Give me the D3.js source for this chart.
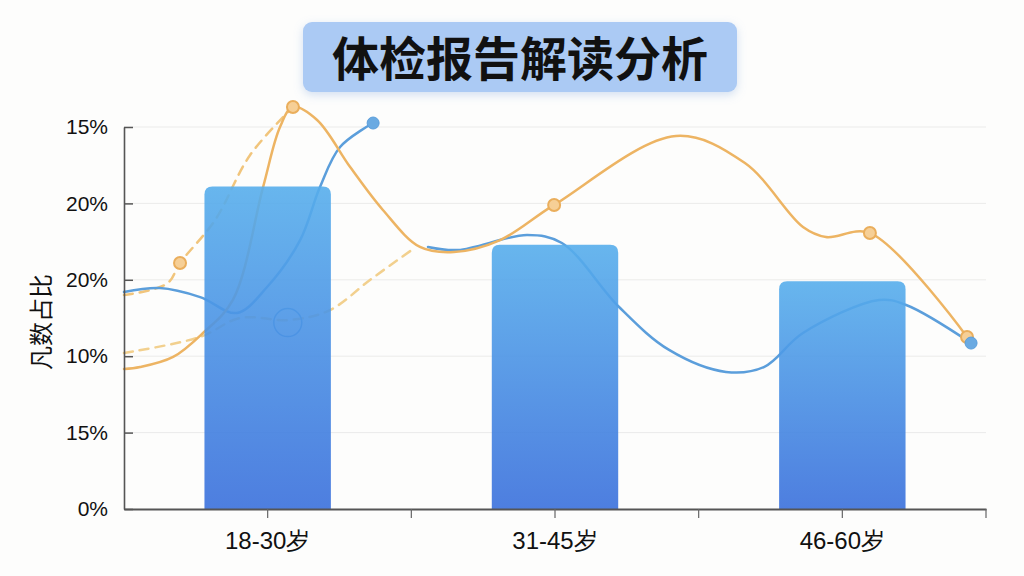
<!DOCTYPE html>
<html><head><meta charset="utf-8">
<script src="https://cdn.jsdelivr.net/npm/d3@7"></script>
<style>
html,body{margin:0;padding:0;background:#fdfdfc;}
svg{display:block;font-family:"Liberation Sans","Noto Sans CJK SC",sans-serif;}
</style></head>
<body>
<svg id="chart" width="1024" height="576"></svg>
<script>
// ---- data ----
const title = "体检报告解读分析";
const yTitle = "凡数占比";
const categories = ["18-30岁", "31-45岁", "46-60岁"];
const barValues = [21.1, 17.3, 14.9];
const yTickValues = [0, 5, 10, 15, 20, 25];
const yTickLabels = ["0%", "15%", "10%", "20%", "20%", "15%"];

// line series as [position along categories (0..3), value]
const orangeSolid = [[0,9.16],[0.056,9.29],[0.171,9.95],[0.275,11.52],[0.379,13.68],[0.484,21.07],[0.543,25.0],[0.588,26.31],[0.672,25.46],[0.787,22.38],[0.901,19.57],[1.03,17.15],[1.148,16.82],[1.309,17.6],[1.497,19.9],[1.921,24.41],[2.161,22.64],[2.363,18.46],[2.443,17.8],[2.596,18.06],[2.934,11.26]];
const orangeSolidMarks = [[0.588,26.31],[1.497,19.9],[2.596,18.06],[2.934,11.26]];
const orangeDashA = [[0,14.0],[0.15,14.75],[0.195,16.1],[0.317,18.91],[0.439,23.17],[0.588,26.31]];
const orangeDashAMarks = [[0.195,16.1]];
const orangeDashB = [[0,10.21],[0.265,11.26],[0.404,12.5],[0.578,12.37],[0.717,13.02],[0.856,14.99],[1.005,17.0]];
const blueA = [[0,14.2],[0.125,14.46],[0.265,13.87],[0.393,12.83],[0.498,14.53],[0.613,17.6],[0.682,21.07],[0.752,23.69],[0.867,25.26]];
const blueAMarks = [[0.867,25.26]];
const blueLoop = [[0.57,12.2]];
const blueB = [[1.058,17.15],[1.162,16.95],[1.403,17.93],[1.524,17.41],[1.723,13.22],[1.897,10.41],[2.095,8.97],[2.227,9.29],[2.363,11.52],[2.628,13.68],[2.722,13.35],[2.948,10.86]];
const blueBMarks = [[2.948,10.86]];

// ---- layout ----
const svg = d3.select("#chart");
const pLeft = 124, pRight = 986, pTop = 127, pBottom = 509;

const x = d3.scaleBand().domain(categories).range([pLeft, pRight]).padding(0);
const xPos = d3.scaleLinear().domain([0, 3]).range([pLeft, pRight]);
const y = d3.scaleLinear().domain([0, 25]).range([pBottom, pTop]);

const defs = svg.append("defs");
const grad = defs.append("linearGradient").attr("id","barGrad").attr("x1",0).attr("y1",0).attr("x2",0).attr("y2",1);
grad.append("stop").attr("offset","0%").attr("stop-color","#57aeec");
grad.append("stop").attr("offset","100%").attr("stop-color","#3a70dc");
const sh = defs.append("filter").attr("id","shadow").attr("x","-20%").attr("y","-40%").attr("width","140%").attr("height","200%");
sh.append("feDropShadow").attr("dx",0).attr("dy",3).attr("stdDeviation",5).attr("flood-color","#7fa6dc").attr("flood-opacity",0.35);

// title
svg.append("rect").attr("x",303).attr("y",22).attr("width",434).attr("height",70).attr("rx",9)
  .attr("fill","#abcaf4").attr("filter","url(#shadow)");
svg.append("text").attr("x",520).attr("y",76).attr("text-anchor","middle")
  .attr("font-family","'Noto Sans CJK SC',sans-serif").attr("font-weight",700).attr("font-size",47)
  .attr("fill","#111").text(title);

// gridlines
svg.append("g").selectAll("line").data(yTickValues.slice(1)).join("line")
  .attr("x1",pLeft).attr("x2",pRight).attr("y1",d=>y(d)).attr("y2",d=>y(d))
  .attr("stroke","#ebebea").attr("stroke-width",1);

// lines (behind bars)
const line = d3.line().x(d=>xPos(d[0])).y(d=>y(d[1])).curve(d3.curveCatmullRom.alpha(0.5));
const gl = svg.append("g").attr("fill","none").attr("stroke-linecap","round");
gl.append("path").datum(orangeDashB).attr("d",line).attr("stroke","#f2d08e").attr("stroke-width",2.5).attr("stroke-dasharray","9,7");
gl.append("path").datum(orangeDashA).attr("d",line).attr("stroke","#f1c57c").attr("stroke-width",2.5).attr("stroke-dasharray","9,7");
gl.append("path").datum(blueA).attr("d",line).attr("stroke","#5b9edb").attr("stroke-width",2.5);
gl.append("path").datum(blueB).attr("d",line).attr("stroke","#5b9edb").attr("stroke-width",2.5);
gl.append("path").datum(orangeSolid).attr("d",line).attr("stroke","#edb463").attr("stroke-width",2.5);
gl.selectAll("circle.loop").data(blueLoop).join("circle").attr("class","loop")
  .attr("cx",d=>xPos(d[0])).attr("cy",d=>y(d[1])).attr("r",14)
  .attr("stroke","#5b9edb").attr("stroke-width",1.5);

// bars
const bw = x.bandwidth()*0.44;
svg.append("g").selectAll("path").data(barValues).join("path")
  .attr("d",(d,i)=>{
    const cx = x(categories[i]) + x.bandwidth()/2;
    const x0 = cx - bw/2, x1 = cx + bw/2, y0 = y(d), y1 = y(0), r = 8;
    return `M${x0},${y1}V${y0+r}Q${x0},${y0} ${x0+r},${y0}H${x1-r}Q${x1},${y0} ${x1},${y0+r}V${y1}Z`;
  })
  .attr("fill","url(#barGrad)").attr("opacity",0.9);

// markers
const mk = svg.append("g");
mk.selectAll("circle.o").data(orangeSolidMarks.concat(orangeDashAMarks)).join("circle").attr("class","o")
  .attr("cx",d=>xPos(d[0])).attr("cy",d=>y(d[1])).attr("r",6)
  .attr("fill","#f6cf96").attr("stroke","#eaae5c").attr("stroke-width",2);
mk.selectAll("circle.b").data(blueAMarks.concat(blueBMarks)).join("circle").attr("class","b")
  .attr("cx",d=>xPos(d[0])).attr("cy",d=>y(d[1])).attr("r",6)
  .attr("fill","#6aaae2").attr("stroke","#5b9edb").attr("stroke-width",1);

// axes
const yAxis = d3.axisLeft(y).tickValues(yTickValues).tickFormat((d,i)=>yTickLabels[i]).tickSizeInner(-9).tickSizeOuter(0).tickPadding(16);
const gy = svg.append("g").attr("transform",`translate(${pLeft},0)`).call(yAxis);
gy.select(".domain").attr("stroke","#555").attr("stroke-width",1.6);
gy.selectAll(".tick line").attr("stroke","#555").attr("stroke-width",1.5);
gy.selectAll(".tick text").attr("font-size",21).attr("fill","#111");

const xAxis = d3.axisBottom(x).tickSizeInner(9).tickSizeOuter(0).tickPadding(14);
const gx = svg.append("g").attr("transform",`translate(0,${pBottom})`).call(xAxis);
gx.select(".domain").attr("stroke","#555").attr("stroke-width",2);
gx.selectAll(".tick line").attr("stroke","#666").attr("stroke-width",1.2);
gx.selectAll(".tick text").attr("font-size",24).attr("fill","#111");
// boundary ticks between categories
gx.append("g").selectAll("line").data(categories).join("line")
  .attr("x1",d=>x(d)+x.bandwidth()).attr("x2",d=>x(d)+x.bandwidth())
  .attr("y1",0).attr("y2",9).attr("stroke","#666").attr("stroke-width",1.2);

// y title
svg.append("text").attr("transform","translate(50,322) rotate(-90)").attr("text-anchor","middle")
  .attr("font-family","'Noto Sans CJK SC',sans-serif").attr("font-size",24).attr("fill","#111").text(yTitle);
</script>
</body></html>
